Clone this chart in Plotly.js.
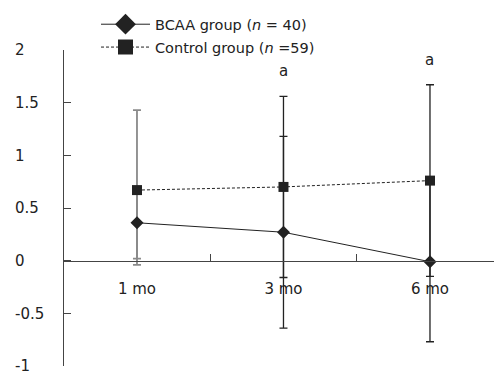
<!DOCTYPE html>
<html>
<head>
<meta charset="utf-8">
<script src="https://cdn.plot.ly/plotly-3.0.1.min.js"></script>
<style>html,body{margin:0;padding:0;background:#fff;}#chart{width:494px;height:374px;}</style>
</head>
<body>
<div id="chart"></div>
<script>
// ---- data ----
const categories = ["1 mo", "3 mo", "6 mo"];
const bcaaValues = [0.36, 0.27, -0.01];
const bcaaErrPlus = [0.34, 0.91, 0.76];
const bcaaErrMinus = [0.34, 0.91, 0.76];
const controlValues = [0.67, 0.70, 0.76];
const controlErrPlus = [0.76, 0.86, 0.91];
const controlErrMinus = [0.71, 0.86, 0.91];
const bcaaName = "BCAA group (<i>n</i> = 40)";
const controlName = "Control group (<i>n</i> =59)";
const sigLabels = ["", "a", "a"];
const yTickVals = [-1, -0.5, 0, 0.5, 1, 1.5, 2];
const yTickText = ["-1", "-0.5", "0", "0.5", "1", "1.5", "2"];

const W = 494, H = 374;
const FONT = "DejaVu Sans, Verdana, sans-serif";
const dark = "#222222";
const axisCol = "#444444";
const grayErr = "#8a8a8a";

function errTrace(xs, ys, ep, em, color, thick) {
  return {
    x: xs, y: ys, type: "scatter", mode: "markers",
    marker: {opacity: 0, size: 1},
    showlegend: false, hoverinfo: "skip",
    error_y: {type: "data", array: ep, arrayminus: em, symmetric: false,
              color: color, thickness: thick, width: 4}
  };
}

const traces = [
  errTrace(categories.slice(0,1), controlValues.slice(0,1), controlErrPlus.slice(0,1), controlErrMinus.slice(0,1), grayErr, 1.8),
  errTrace(categories.slice(0,1), bcaaValues.slice(0,1), bcaaErrPlus.slice(0,1), bcaaErrMinus.slice(0,1), grayErr, 1.8),
  errTrace(categories.slice(1), controlValues.slice(1), controlErrPlus.slice(1), controlErrMinus.slice(1), dark, 1.3),
  errTrace(categories.slice(1), bcaaValues.slice(1), bcaaErrPlus.slice(1), bcaaErrMinus.slice(1), dark, 1.3),
  {
    x: categories, y: bcaaValues, type: "scatter", mode: "lines+markers", name: bcaaName,
    showlegend: false,
    line: {color: dark, width: 1},
    marker: {symbol: "diamond", size: 10, color: dark}
  },
  {
    x: categories, y: controlValues, type: "scatter", mode: "lines+markers", name: controlName,
    showlegend: false,
    line: {color: dark, width: 1, dash: "3px,2px"},
    marker: {symbol: "square", size: 10, color: dark}
  },
  // legend entries (larger legend symbols, as in the reference); no points drawn
  {
    x: [null], y: [null], type: "scatter", mode: "lines+markers", name: bcaaName,
    legendgroup: "a", hoverinfo: "skip",
    line: {color: dark, width: 1},
    marker: {symbol: "diamond", size: 16, color: dark}
  },
  {
    x: [null], y: [null], type: "scatter", mode: "lines+markers", name: controlName,
    legendgroup: "b", hoverinfo: "skip",
    line: {color: dark, width: 1, dash: "3px,2px"},
    marker: {symbol: "square", size: 15, color: dark}
  }
];

const annotations = categories.map((c, i) => ({
  x: c, y: controlValues[i] + controlErrPlus[i], xref: "x", yref: "y",
  text: sigLabels[i], showarrow: false, yanchor: "bottom", yshift: 14,
  font: {family: FONT, size: 15, color: dark}
})).filter(a => a.text !== "");

const layout = {
  width: W, height: H,
  margin: {l: 0, r: 0, t: 50, b: 8},
  paper_bgcolor: "#fff", plot_bgcolor: "#fff",
  font: {family: FONT, size: 15, color: dark},
  showlegend: true,
  legend: {
    x: 96 / W, y: 1.132, xanchor: "left", yanchor: "top",
    bgcolor: "rgba(0,0,0,0)", borderwidth: 0,
    font: {family: FONT, size: 14.5, color: dark},
    itemwidth: 49,
    traceorder: "grouped", tracegroupgap: 1
  },
  xaxis: {
    type: "category",
    categoryarray: categories, categoryorder: "array",
    domain: [63 / W, 1],
    range: [-0.505, 2.437],
    anchor: "free", position: 1 / 3,
    showline: true, linecolor: axisCol, linewidth: 1,
    ticks: "inside", ticklen: 7, tickcolor: axisCol, tickwidth: 1,
    tickson: "boundaries",
    ticklabelstandoff: 14,
    showgrid: false, zeroline: false,
    tickfont: {family: FONT, size: 15, color: dark}
  },
  yaxis: {
    range: [-1, 2],
    anchor: "free", position: 63 / W,
    tickvals: yTickVals, ticktext: yTickText,
    showticklabels: false,
    showline: true, linecolor: axisCol, linewidth: 1,
    ticks: "inside", ticklen: 7, tickcolor: axisCol, tickwidth: 1,
    showgrid: false, zeroline: false
  },
  yaxis2: {
    overlaying: "y", range: [-1, 2],
    anchor: "free", position: 11 / W, side: "left",
    tickvals: yTickVals, ticktext: yTickText,
    ticklabelposition: "inside", ticklabeloverflow: "allow",
    ticks: "", showline: false, showgrid: false, zeroline: false,
    tickfont: {family: FONT, size: 15, color: dark}
  },
  annotations: annotations
};

// invisible trace to activate yaxis2 (tick labels only)
traces.push({x: [categories[0]], y: [0], yaxis: "y2", type: "scatter", mode: "markers",
  marker: {opacity: 0}, showlegend: false, hoverinfo: "skip"});

Plotly.newPlot("chart", traces, layout, {displayModeBar: false, staticPlot: true});
</script>
</body>
</html>
